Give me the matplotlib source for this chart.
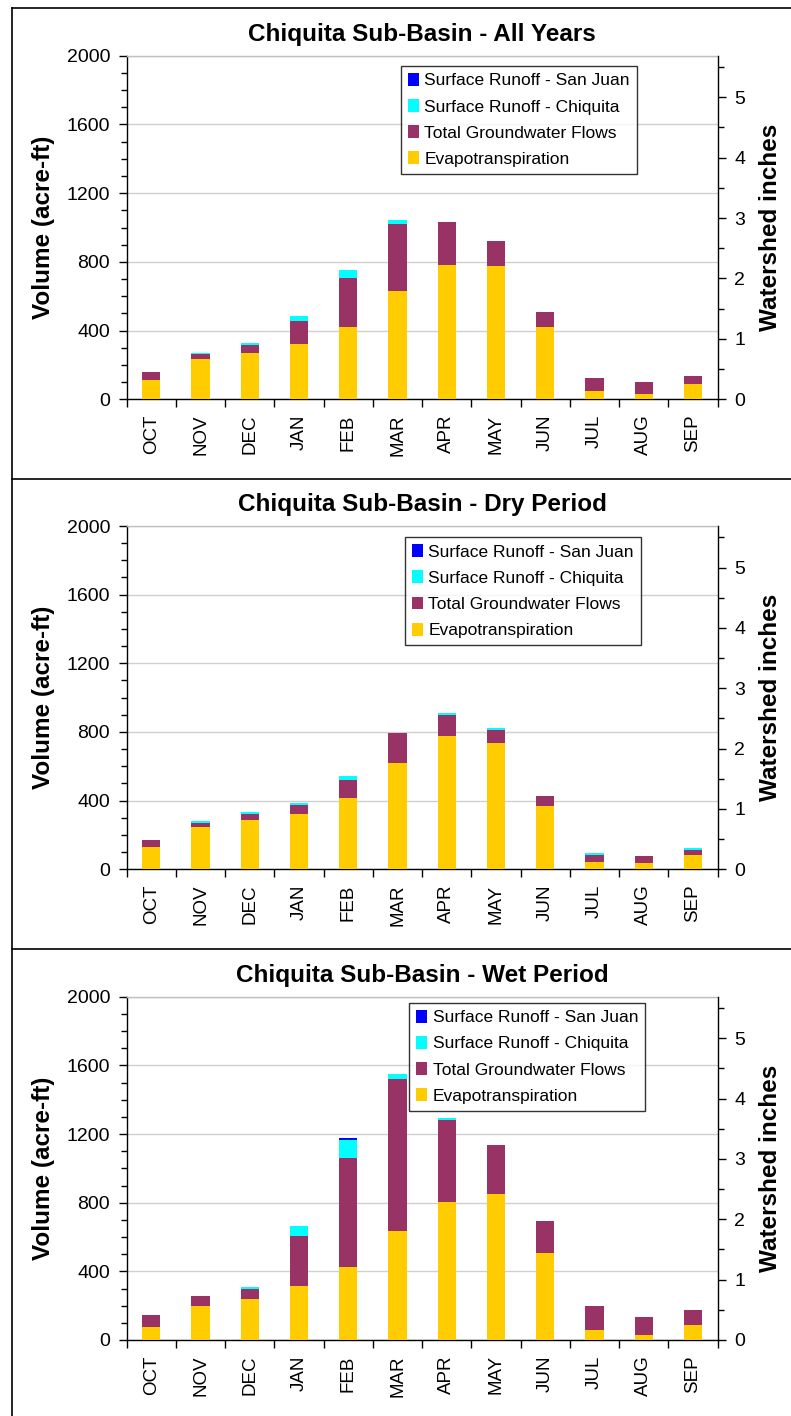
import matplotlib
matplotlib.use("Agg")
import matplotlib.pyplot as plt
from matplotlib.lines import Line2D
from matplotlib.patches import Patch
import numpy as np

plt.rcParams['font.family'] = ['Liberation Sans', 'DejaVu Sans']

months = ["OCT", "NOV", "DEC", "JAN", "FEB", "MAR", "APR", "MAY", "JUN", "JUL", "AUG", "SEP"]
series_names = ["Surface Runoff - San Juan", "Surface Runoff - Chiquita",
                "Total Groundwater Flows", "Evapotranspiration"]
titles = ["Chiquita Sub-Basin - All Years", "Chiquita Sub-Basin - Dry Period",
          "Chiquita Sub-Basin - Wet Period"]

# All Years
all_et = [113, 236, 271, 324, 418, 628, 780, 775, 418, 49, 31, 90]
all_gw = [47, 25, 47, 129, 286, 392, 252, 146, 93, 76, 70, 47]
all_ch = [0, 10, 12, 29, 47, 24, 0, 0, 0, 0, 0, 0]
all_sj = [0, 0, 0, 0, 0, 0, 0, 0, 0, 0, 0, 0]
# Dry Period
dry_et = [131, 248, 289, 324, 418, 617, 775, 734, 371, 43, 37, 84]
dry_gw = [41, 23, 35, 53, 105, 175, 123, 76, 58, 41, 41, 29]
dry_ch = [0, 12, 12, 11, 23, 0, 11, 11, 0, 12, 0, 12]
dry_sj = [0, 0, 0, 0, 0, 0, 0, 0, 0, 0, 0, 0]
# Wet Period
wet_et = [76, 198, 239, 315, 425, 635, 804, 850, 507, 58, 29, 87]
wet_gw = [70, 58, 58, 291, 635, 885, 478, 286, 186, 140, 105, 88]
wet_ch = [0, 0, 12, 58, 105, 30, 11, 0, 0, 0, 0, 0]
wet_sj = [0, 0, 0, 0, 12, 0, 0, 0, 0, 0, 0, 0]

panels = [(all_et, all_gw, all_ch, all_sj),
          (dry_et, dry_gw, dry_ch, dry_sj),
          (wet_et, wet_gw, wet_ch, wet_sj)]

ACFT_PER_INCH = 351.6
c_et, c_gw, c_ch, c_sj = "#FFCC00", "#993366", "#00FFFF", "#0000FF"

W, H = 791, 1416
fig = plt.figure(figsize=(W / 100, H / 100), dpi=100)

def fx(px):
    return px / W

def fy(py):
    return 1 - py / H

# panel frame lines
for y in [8, 479, 949]:
    fig.add_artist(Line2D([fx(12.5), 1.0], [fy(y), fy(y)], color='black', lw=1.2))
fig.add_artist(Line2D([fx(12.5), fx(12.5)], [fy(8), 0], color='black', lw=1.2))

ax_left, ax_right = 126.7, 717.7
tops = [55.7, 526.0, 996.7]
bottoms = [399.3, 869.3, 1340.0]
leg_pos = [(0.464, 0.970), (0.471, 0.967), (0.478, 0.982)]

x = np.arange(len(months))
for i, (et, gw, ch, sj) in enumerate(panels):
    top, bot = tops[i], bottoms[i]
    ax = fig.add_axes([fx(ax_left), fy(bot), fx(ax_right) - fx(ax_left), (bot - top) / H])
    et = np.array(et); gw = np.array(gw); ch = np.array(ch); sj = np.array(sj)
    bw = 0.37
    ax.bar(x, et, bw, color=c_et, zorder=3, linewidth=0)
    ax.bar(x, gw, bw, bottom=et, color=c_gw, zorder=3, linewidth=0)
    ax.bar(x, ch, bw, bottom=et + gw, color=c_ch, zorder=3, linewidth=0)
    ax.bar(x, sj, bw, bottom=et + gw + ch, color=c_sj, zorder=3, linewidth=0)
    ax.set_xlim(-0.5, len(months) - 0.5)
    ax.set_ylim(0, 2000)
    ax.set_yticks(np.arange(0, 2001, 400))
    ax.set_yticks(np.arange(0, 2001, 100), minor=True)
    ax.yaxis.grid(True, which='major', color='#d0d0d0', lw=1.0, zorder=0)
    ax.set_xticks(x)
    ax.set_xticklabels(months, rotation=90, fontsize=13.5)
    ax.set_xticks(np.arange(-0.5, len(months), 1.0), minor=True)
    ax.tick_params(axis='x', which='major', length=0, pad=11)
    ax.tick_params(axis='x', which='minor', length=6, width=1, direction='out')
    ax.tick_params(axis='y', which='major', length=6, width=1, direction='out', labelsize=14, pad=6)
    ax.tick_params(axis='y', which='minor', length=4, width=1, direction='out')
    for s in ['left', 'bottom']:
        ax.spines[s].set_color('black')
        ax.spines[s].set_linewidth(1.0)
    ax.spines['top'].set_color('#c0c0c0')
    ax.spines['top'].set_linewidth(1.0)
    ax.spines['right'].set_visible(False)
    ax.set_ylabel("Volume (acre-ft)", fontsize=17.5, fontweight='bold', labelpad=8)

    ax2 = ax.twinx()
    ax2.set_ylim(0, 2000 / ACFT_PER_INCH)
    ax2.set_yticks(np.arange(0, 6, 1))
    ax2.set_yticks(np.arange(0, 6, 0.5), minor=True)
    ax2.tick_params(axis='y', which='major', length=6, width=1, direction='out', labelsize=14, pad=6)
    ax2.tick_params(axis='y', which='minor', length=4, width=1, direction='out')
    for s in ['left', 'top', 'bottom']:
        ax2.spines[s].set_visible(False)
    ax2.spines['right'].set_color('black')
    ax2.spines['right'].set_linewidth(1.0)
    ax2.set_ylabel("Watershed inches", fontsize=17.5, fontweight='bold', labelpad=10)

    handles = [Patch(facecolor=c_sj, edgecolor='none'),
               Patch(facecolor=c_ch, edgecolor='none'),
               Patch(facecolor=c_gw, edgecolor='none'),
               Patch(facecolor=c_et, edgecolor='none')]
    leg = ax2.legend(handles, series_names, loc='upper left', bbox_to_anchor=leg_pos[i],
                     borderaxespad=0, fontsize=12.5, fancybox=False, frameon=True,
                     handlelength=0.65, handleheight=0.75, handletextpad=0.3,
                     labelspacing=0.62, borderpad=0.4)
    leg.get_frame().set_edgecolor('black')
    leg.get_frame().set_linewidth(1.0)
    leg.set_zorder(10)

    fig.text(fx((ax_left + ax_right) / 2), fy(top - 15), titles[i], ha='center',
             va='baseline', fontsize=17.5, fontweight='bold')

fig.savefig("out.png", dpi=100)
